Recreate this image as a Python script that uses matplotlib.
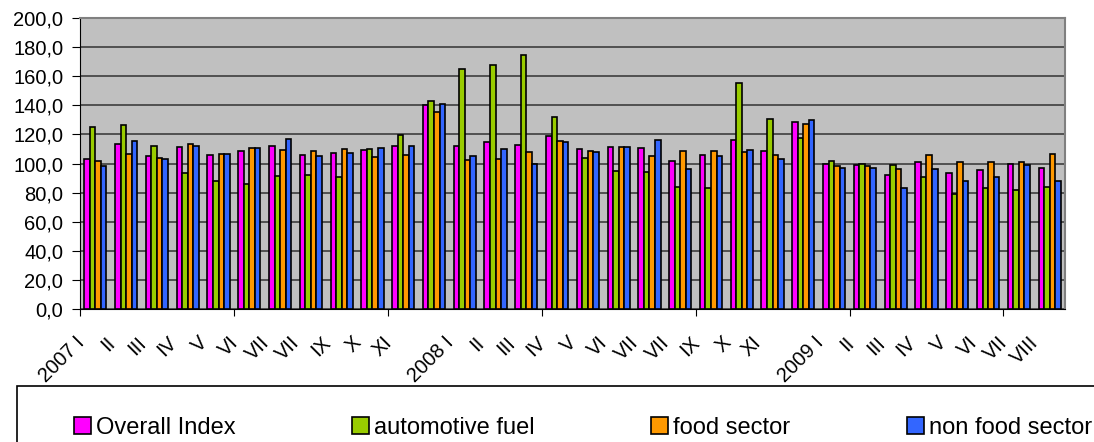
import matplotlib.pyplot as plt
import matplotlib.patches as patches
import matplotlib.transforms as mtransforms
import numpy as np

# ---------------- DATA ----------------
months = ['2007 I', 'II', 'III', 'IV', 'V', 'VI', 'VII', 'VII', 'IX', 'X', 'XI', '',
          '2008 I', 'II', 'III', 'IV', 'V', 'VI', 'VII', 'VII', 'IX', 'X', 'XI', '',
          '2009 I', 'II', 'III', 'IV', 'V', 'VI', 'VII', 'VIII']

overall = [103.2, 113.3, 105.0, 111.2, 105.5, 108.7, 111.7, 105.7, 107.3, 109.2, 111.7, 140.4,
           111.7, 114.5, 112.6, 119.0, 109.7, 111.5, 110.8, 101.4, 105.5, 116.1, 108.3, 128.3,
           99.5, 99.3, 91.9, 100.9, 93.5, 95.4, 99.5, 96.8]
fuel = [124.8, 126.2, 112.2, 93.8, 88.3, 86.2, 91.5, 92.4, 90.8, 110.1, 119.5, 143.2,
        165.0, 167.8, 174.9, 131.9, 103.7, 94.9, 94.5, 83.9, 83.4, 155.2, 130.8, 117.7,
        102.0, 99.5, 98.8, 90.8, 78.8, 83.0, 81.8, 83.7]
food = [101.4, 106.2, 103.7, 113.1, 106.7, 110.6, 109.2, 108.5, 109.7, 104.6, 105.7, 135.6,
        102.3, 102.8, 108.0, 115.4, 108.7, 111.2, 105.0, 108.7, 108.3, 107.6, 105.7, 127.1,
        98.4, 98.6, 96.1, 105.9, 100.9, 100.7, 100.9, 106.2]
nonfood = [98.4, 115.4, 102.8, 111.7, 106.4, 110.6, 117.0, 105.0, 107.3, 110.8, 112.2, 140.7,
           105.3, 110.1, 99.7, 114.7, 107.6, 111.5, 115.9, 96.1, 105.0, 109.0, 103.2, 129.7,
           97.0, 97.2, 83.4, 96.3, 88.0, 90.8, 99.3, 87.8]

series = [('Overall Index', overall, '#FF00FF'),
          ('automotive fuel', fuel, '#99CC00'),
          ('food sector', food, '#FF9900'),
          ('non food sector', nonfood, '#3366FF')]

plt.rcParams['font.family'] = ['Liberation Sans', 'DejaVu Sans']

fig = plt.figure(figsize=(10.94, 4.42), dpi=100)
ax = fig.add_axes([80 / 1094, 1 - 309 / 442, 985 / 1094, 291 / 442])
ax.set_facecolor('#C0C0C0')

x = np.arange(len(months))
w = 0.18
for i, (name, vals, col) in enumerate(series):
    ax.bar(x + (i - 1.5) * w, vals, w, color=col, edgecolor='black',
           linewidth=1.2, label=name, zorder=3)

ax.set_xlim(-0.5, len(months) - 0.5)
ax.set_ylim(0, 200)
ax.set_yticks(np.arange(0, 201, 20))
ax.set_yticklabels([f'{v:.1f}'.replace('.', ',') for v in np.arange(0, 201, 20)],
                   fontsize=14.5)
ax.yaxis.grid(True, color='#333333', linewidth=1.1, zorder=0)
ax.set_axisbelow(True)

ax.set_xticks(np.arange(-0.5, len(months), 5))
ax.set_xticklabels([])
ax.tick_params(axis='x', length=5, color='black')
ax.tick_params(axis='y', length=6, color='black', pad=6)

for s in ['top', 'right']:
    ax.spines[s].set_color('#808080')
    ax.spines[s].set_linewidth(1.5)
for s in ['left', 'bottom']:
    ax.spines[s].set_color('black')

# rotated month labels
trans = ax.get_xaxis_transform()
off = mtransforms.ScaledTranslation(-14 / 100, -31 / 100, fig.dpi_scale_trans)
for xi, lab in zip(x, months):
    ax.text(xi, 0, lab, transform=trans + off, rotation=45, ha='right',
            va='center', rotation_mode='anchor', fontsize=14.5)

# legend box
fig.patches.append(patches.Rectangle((17 / 1094, -0.1), 1.1, 0.1 + (442 - 386) / 442,
                                     transform=fig.transFigure, facecolor='white',
                                     edgecolor='black', linewidth=1.2))
fig.legend(loc='center left', bbox_to_anchor=(74 / 1094, 1 - 428 / 442), ncol=4,
           frameon=False, fontsize=17, handlelength=0.72, handleheight=0.72,
           handletextpad=0.2, columnspacing=4.95, borderpad=0, borderaxespad=0)

fig.savefig('out.png', dpi=100)
